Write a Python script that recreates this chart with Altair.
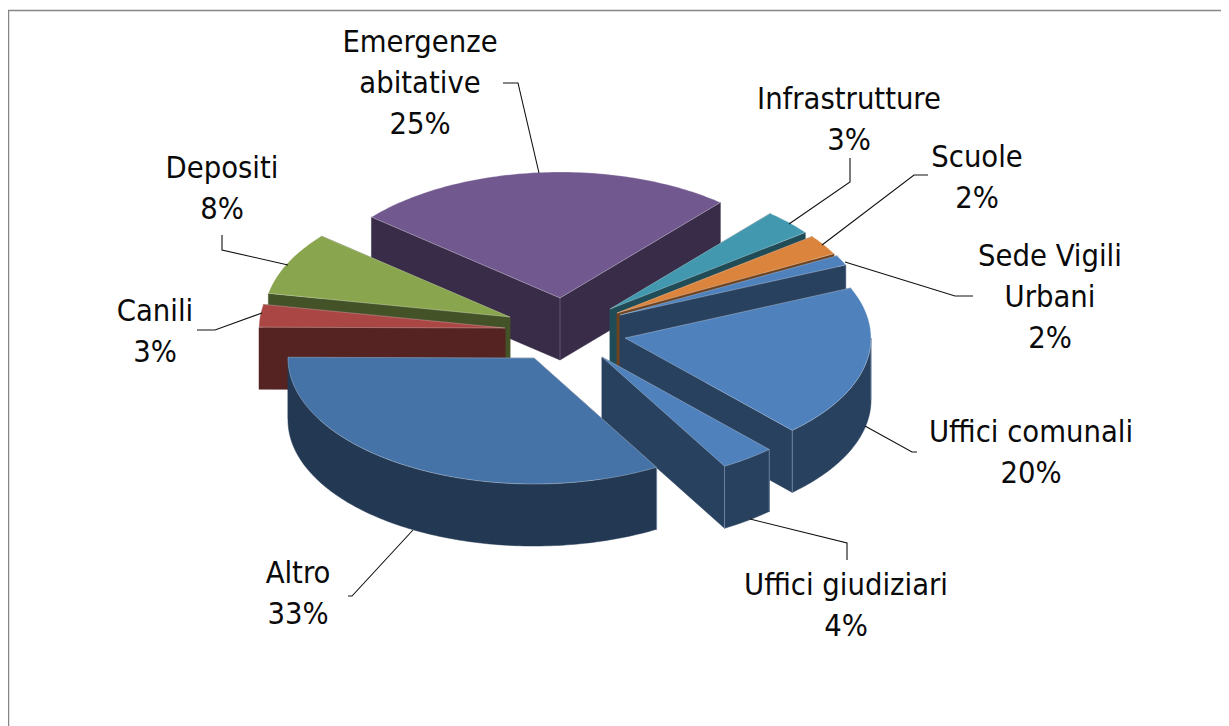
import math
import altair as alt

# Values, in clockwise drawing order
names = ["Uffici comunali", "Uffici giudiziari", "Altro", "Canili", "Depositi",
         "Emergenze abitative", "Infrastrutture", "Scuole", "Sede Vigili Urbani"]
shares = [19.6, 3.6, 33.4, 2.9, 8.1, 25.2, 3.3, 2.6, 1.3]
percent_labels = ["20%", "4%", "33%", "3%", "8%", "25%", "3%", "2%", "2%"]
label_lines = [["Uffici comunali"], ["Uffici giudiziari"], ["Altro"], ["Canili"], ["Depositi"],
               ["Emergenze", "abitative"], ["Infrastrutture"], ["Scuole"], ["Sede Vigili", "Urbani"]]

# Layout and style (reference pixel coordinates)
W, H = 1213, 718
ORIGIN = 8
RX, RY, DEPTH = 246, 126, 62
START_DEG = -23.4
apex = {"Uffici comunali": (625, 338), "Uffici giudiziari": (602, 357), "Altro": (534, 358),
        "Canili": (505, 328), "Depositi": (510, 317), "Emergenze abitative": (560, 298),
        "Infrastrutture": (610, 309), "Scuole": (617, 313), "Sede Vigili Urbani": (620, 315)}
top_col = {"Uffici comunali": "#4F81BD", "Uffici giudiziari": "#4F81BD", "Altro": "#4572A7",
           "Canili": "#AA4643", "Depositi": "#89A54E", "Emergenze abitative": "#71588F",
           "Infrastrutture": "#4198AF", "Scuole": "#DB843D", "Sede Vigili Urbani": "#4F81BD"}
side_col = {"Uffici comunali": "#28415F", "Uffici giudiziari": "#28415F", "Altro": "#233953",
            "Canili": "#552321", "Depositi": "#445327", "Emergenze abitative": "#382C48",
            "Infrastrutture": "#204C58", "Scuole": "#6E421F", "Sede Vigili Urbani": "#28415F"}
paint_order = ["Emergenze abitative", "Infrastrutture", "Scuole", "Sede Vigili Urbani",
               "Depositi", "Canili", "Uffici comunali", "Uffici giudiziari", "Altro"]
label_pos = {"Uffici comunali": (1031, 433), "Uffici giudiziari": (846, 586), "Altro": (298, 574),
             "Canili": (155, 312), "Depositi": (222, 169), "Emergenze abitative": (420, 43),
             "Infrastrutture": (849, 100), "Scuole": (977, 158), "Sede Vigili Urbani": (1050, 257)}
LINE_GAP = 41
leaders = [[(503, 83), (518, 83), (539, 173)],
           [(850, 158), (850, 182), (789, 224)],
           [(928, 175), (914, 175), (822, 245)],
           [(973, 296), (955, 296), (845, 262)],
           [(917, 452), (912, 452), (865, 426)],
           [(847, 560), (847, 543), (750, 519)],
           [(348, 596), (352, 596), (413, 530)],
           [(197, 330), (215, 330), (262, 313)],
           [(222, 235), (222, 250), (288, 265)]]
frame = [(8.5, 726), (8.5, 10.5), (1229, 10.5)]


def feature(kind, coords, fill, stroke, sw):
    geom = {"type": "Polygon", "coordinates": [coords]} if kind == "poly" else \
           {"type": "LineString", "coordinates": coords}
    return {"type": "Feature", "geometry": geom,
            "properties": {"fill": fill, "stroke": stroke, "sw": sw}}


def poly(coords, fill, stroke="none", sw=0):
    c = [list(p) for p in coords]
    return feature("poly", c + [c[0]], fill, stroke, sw)


def line(coords, stroke, sw):
    return feature("line", [list(p) for p in coords], "none", stroke, sw)


def pt(name, deg, drop=0):
    ax, ay = apex[name]
    t = math.radians(deg)
    return (ax + RX * math.cos(t), ay + RY * math.sin(t) + drop)


total = sum(shares)
bounds = {}
cursor = START_DEG
for n, v in zip(names, shares):
    bounds[n] = (cursor, cursor + 360 * v / total)
    cursor = bounds[n][1]


def arc(name, a, b, drop=0):
    steps = max(2, int(abs(b - a)))
    return [pt(name, a + (b - a) * i / steps, drop) for i in range(steps + 1)]


features = [line(frame, "#868686", 1.5)]
for n in paint_order:
    a, b = bounds[n]
    ax, ay = apex[n]
    side, top = side_col[n], top_col[n]
    # Radial faces
    for deg in (a, b):
        p, q = pt(n, deg), pt(n, deg, DEPTH)
        features.append(poly([(ax, ay), p, q, (ax, ay + DEPTH)], side, side, 0.5))
    # Outer wall: only the front half of the rim can be seen
    ws, we = max(a, 0), min(b, 180)
    if we > ws:
        wall = arc(n, ws, we) + arc(n, we, ws, DEPTH)
        features.append(poly(wall, side, side, 0.5))
        features.append(line([pt(n, ws), pt(n, ws, DEPTH)], "#7F93AD", 0.8))
        if we < 180:
            features.append(line([pt(n, we), pt(n, we, DEPTH)], "#7F93AD", 0.8))
    if n == "Emergenze abitative":
        features.append(line([(ax, ay), (ax, ay + DEPTH)], "#6E6080", 0.8))
    # Top face
    features.append(poly([(ax, ay)] + arc(n, a, b), top, "#FFFFFF", 0.3))
for seg in leaders:
    features.append(line(seg, "#111111", 1.1))

rows = []
for n, pct, lines in zip(names, percent_labels, label_lines):
    lx, ly = label_pos[n]
    for i, txt in enumerate(lines + [pct]):
        rows.append({"x": lx - ORIGIN, "y": ly + i * LINE_GAP - ORIGIN, "t": txt})

shapes = alt.Chart(alt.Data(values=features)).mark_geoshape().encode(
    fill=alt.Fill("properties.fill:N", scale=None),
    stroke=alt.Stroke("properties.stroke:N", scale=None),
    strokeWidth=alt.StrokeWidth("properties.sw:Q", scale=None),
).project(type="identity", scale=1, translate=[-ORIGIN, -ORIGIN])

texts = alt.Chart(alt.Data(values=rows)).mark_text(
    font="DejaVu Sans Condensed", fontSize=30.6, align="center", baseline="middle", color="#0A0A0A"
).encode(
    x=alt.X("x:Q", scale=None),
    y=alt.Y("y:Q", scale=None),
    text="t:N",
)

chart = alt.layer(shapes, texts).properties(
    width=W, height=H, padding=0, autosize="none", background="white"
).configure_view(stroke=None)

chart.save("out.html", embed_options={"renderer": "svg", "actions": False})
